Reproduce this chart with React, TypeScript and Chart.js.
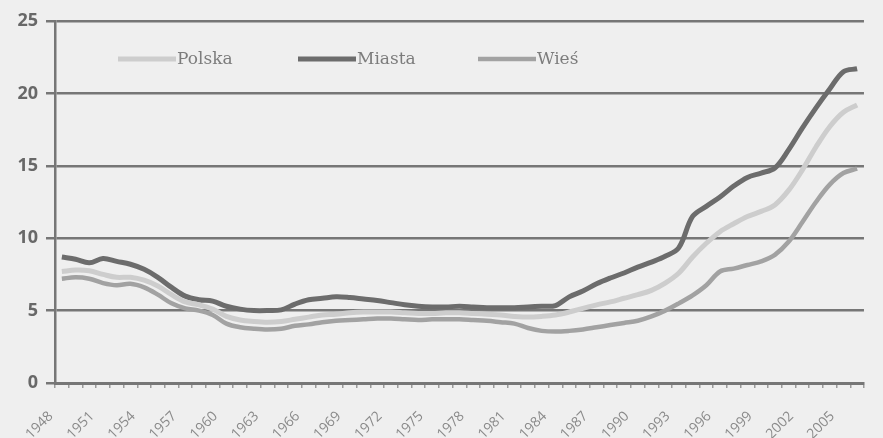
import { useEffect, useRef } from "react";
import { Chart, registerables } from "chart.js";

Chart.register(...registerables);

// Years on the category axis
const years = [
  "1948", "1949", "1950", "1951", "1952", "1953", "1954", "1955", "1956", "1957",
  "1958", "1959", "1960", "1961", "1962", "1963", "1964", "1965", "1966", "1967",
  "1968", "1969", "1970", "1971", "1972", "1973", "1974", "1975", "1976", "1977",
  "1978", "1979", "1980", "1981", "1982", "1983", "1984", "1985", "1986", "1987",
  "1988", "1989", "1990", "1991", "1992", "1993", "1994", "1995", "1996", "1997",
  "1998", "1999", "2000", "2001", "2002", "2003", "2004", "2005", "2006",
];

const polska = [
  7.7, 7.8, 7.75, 7.5, 7.3, 7.3, 7.1, 6.7, 6.1, 5.6,
  5.4, 5.1, 4.6, 4.35, 4.25, 4.2, 4.25, 4.4, 4.55, 4.7,
  4.75, 4.85, 4.9, 4.9, 4.9, 4.85, 4.8, 4.8, 4.85, 4.85,
  4.8, 4.75, 4.7, 4.6, 4.55, 4.6, 4.7, 4.9, 5.15, 5.4,
  5.6, 5.85, 6.1, 6.4, 6.9, 7.6, 8.7, 9.65, 10.45, 11.0,
  11.5, 11.85, 12.3, 13.3, 14.7, 16.3, 17.7, 18.7, 19.2,
];

const miasta = [
  8.7, 8.55, 8.3, 8.6, 8.4, 8.2, 7.85, 7.3, 6.6, 6.0,
  5.75, 5.65, 5.3, 5.1, 5.0, 5.0, 5.05, 5.45, 5.75, 5.85,
  5.95, 5.9, 5.8, 5.7, 5.55, 5.4, 5.3, 5.25, 5.25, 5.3,
  5.25, 5.2, 5.2, 5.2, 5.25, 5.3, 5.35, 5.95, 6.35, 6.85,
  7.25, 7.6, 8.0, 8.35, 8.75, 9.35, 11.5, 12.2, 12.85, 13.6,
  14.2, 14.5, 14.85, 16.1, 17.6, 19.0, 20.3, 21.5, 21.7,
];

const wies = [
  7.2, 7.3, 7.2, 6.9, 6.75, 6.85, 6.6, 6.1, 5.5, 5.15,
  5.0, 4.7, 4.1, 3.85, 3.75, 3.7, 3.75, 3.95, 4.05, 4.2,
  4.3, 4.35, 4.4, 4.45, 4.45, 4.4, 4.35, 4.4, 4.4, 4.4,
  4.35, 4.3, 4.2, 4.1, 3.8, 3.6, 3.55, 3.6, 3.7, 3.85,
  4.0, 4.15, 4.3, 4.6, 5.0, 5.5, 6.05, 6.75, 7.7, 7.9,
  8.15, 8.4, 8.85, 9.75, 11.1, 12.5, 13.7, 14.5, 14.8,
];

const seriesNames = ["Polska", "Miasta", "Wieś"];
const yMin = 0;
const yMax = 25;
const yStep = 5;
const labelEvery = 3;

const AXIS_GREY = "#767676";

// Legend drawn inside the plot area, along its upper band
const inlineLegend = {
  id: "inlineLegend",
  afterDatasetsDraw(chart: any) {
    const { ctx, chartArea } = chart;
    const startX = chartArea.left + 63;
    const spacing = 180;
    const y = chartArea.top + 38;
    ctx.save();
    ctx.font = '17px "DejaVu Serif"';
    ctx.textBaseline = "middle";
    ctx.textAlign = "left";
    chart.data.datasets.forEach((ds: any, i: number) => {
      const x = startX + i * spacing;
      ctx.strokeStyle = ds.borderColor;
      ctx.lineWidth = ds.borderWidth;
      ctx.lineCap = "butt";
      ctx.beginPath();
      ctx.moveTo(x, y);
      ctx.lineTo(x + 58, y);
      ctx.stroke();
      ctx.fillStyle = "#7c7c7c";
      ctx.fillText(ds.label, x + 59, y + 1);
    });
    ctx.restore();
  },
};

export default function App() {
  const canvasRef = useRef<HTMLCanvasElement | null>(null);

  useEffect(() => {
    const canvas = canvasRef.current;
    if (!canvas) return;
    const chart = new Chart(canvas, {
      type: "line",
      data: {
        labels: years,
        datasets: [
          {
            label: seriesNames[0],
            data: polska,
            borderColor: "#cdcdcd",
            borderWidth: 5,
            pointRadius: 0,
            tension: 0.35,
          },
          {
            label: seriesNames[1],
            data: miasta,
            borderColor: "#6c6c6c",
            borderWidth: 5,
            pointRadius: 0,
            tension: 0.35,
          },
          {
            label: seriesNames[2],
            data: wies,
            borderColor: "#a2a2a2",
            borderWidth: 4.5,
            pointRadius: 0,
            tension: 0.35,
          },
        ],
      },
      options: {
        animation: false,
        responsive: false,
        maintainAspectRatio: false,
        devicePixelRatio: 1,
        layout: { padding: { top: 21, left: 0, right: 0, bottom: 0 } },
        plugins: {
          legend: { display: false },
          tooltip: { enabled: false },
        },
        scales: {
          x: {
            type: "category",
            offset: true,
            afterFit: (s: any) => {
              s.height = 55;
            },
            grid: {
              offset: true,
              drawOnChartArea: false,
              drawTicks: true,
              tickLength: 5,
              color: "#9a9a9a",
              lineWidth: 1.5,
            },
            border: { display: true, color: AXIS_GREY, width: 3 },
            ticks: {
              autoSkip: false,
              maxRotation: 45,
              minRotation: 45,
              labelOffset: -11,
              padding: 20,
              color: "#8a8a8a",
              font: { family: '"Open Sans"', size: 14 },
              callback: (_v: any, i: number) => (i % labelEvery === 0 ? years[i] : ""),
            },
          },
          y: {
            min: yMin,
            max: yMax,
            afterFit: (s: any) => {
              s.width = 55;
            },
            grid: {
              color: AXIS_GREY,
              lineWidth: 2.5,
              drawTicks: true,
              tickLength: 9,
            },
            border: { display: true, color: AXIS_GREY, width: 2.5 },
            ticks: {
              stepSize: yStep,
              padding: 8,
              color: "#686868",
              font: { family: '"Open Sans"', size: 18, weight: "bold" },
            },
          },
        },
      },
      plugins: [inlineLegend],
    });
    return () => chart.destroy();
  }, []);

  return (
    <div
      style={{
        position: "fixed",
        left: 0,
        top: 0,
        width: 883,
        height: 438,
        overflow: "hidden",
        background: "#efefef",
      }}
    >
      <canvas ref={canvasRef} width={889} height={438} style={{ display: "block" }} />
    </div>
  );
}
